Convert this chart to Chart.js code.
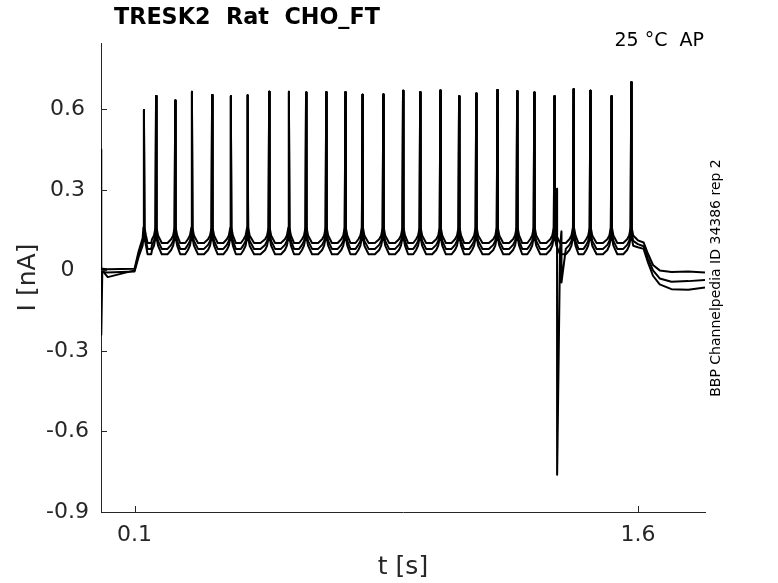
<!DOCTYPE html>
<html>
<head>
<meta charset="utf-8">
<script src="https://cdn.jsdelivr.net/npm/chart.js@4.4.1/dist/chart.umd.min.js"></script>
<style>
  html, body { margin: 0; padding: 0; background: #fff; }
  #wrap { width: 778px; height: 583px; }
</style>
</head>
<body>
<div id="wrap"><canvas id="trace" width="778" height="583"></canvas></div>
<script>
// Axis ticks
var xTicks = [0.1, 1.6];
var xTickLabels = ['0.1', '1.6'];
var yTicks = [-0.9, -0.6, -0.3, 0, 0.3, 0.6];
var yTickLabels = ['-0.9', '-0.6', '-0.3', '0', '0.3', '0.6'];

// Action potential times [s] and peak currents [nA]
var spikeTimes = [0.128, 0.164, 0.221, 0.271, 0.331, 0.387, 0.437, 0.501, 0.560, 0.611,
                  0.671, 0.728, 0.779, 0.841, 0.900, 0.951, 1.011, 1.067, 1.118, 1.181,
                  1.240, 1.291, 1.351, 1.408, 1.458, 1.521, 1.580];
var spikePeaks = [0.597, 0.650, 0.633, 0.665, 0.653, 0.650, 0.652, 0.665, 0.665, 0.663,
                  0.664, 0.664, 0.654, 0.655, 0.669, 0.664, 0.670, 0.649, 0.659, 0.672,
                  0.667, 0.663, 0.649, 0.675, 0.669, 0.649, 0.701];

// Three sweeps: level next to each spike and level in the dip between spikes
var sweepNames = ['sweep 1', 'sweep 2', 'sweep 3'];
var shoulderLevel = [0.130, 0.110, 0.092];
var troughLevel = [0.102, 0.080, 0.060];

// Before the stimulus
var headT = [0.0, 0.0008, 0.004, 0.020, 0.100, 0.112, 0.124];
var head1 = [0.45, -0.24, 0.006, 0.004, 0.006, 0.070, 0.120];
var head2 = [0.0, 0.0, 0.0, -0.025, 0.0, 0.060, 0.106];
var head3 = [-0.006, -0.006, -0.006, -0.008, -0.004, 0.050, 0.092];

// After the stimulus
var tailT = [1.600, 1.617, 1.630, 1.645, 1.665, 1.700, 1.750, 1.800];
var tail1 = [0.112, 0.104, 0.062, 0.020, 0.000, -0.006, -0.004, -0.008];
var tail2 = [0.098, 0.090, 0.045, 0.000, -0.030, -0.042, -0.040, -0.036];
var tail3 = [0.086, 0.080, 0.030, -0.020, -0.052, -0.070, -0.072, -0.064];

// Recording artefact seen in one sweep
var artefactT = [1.3590, 1.3593, 1.3720, 1.3723];
var artefactI = [0.304, -0.761, 0.145, -0.045];

var heads = [head1, head2, head3];
var tails = [tail1, tail2, tail3];

// Build one sweep as a list of {x, y}
function buildSweep(k) {
    var pts = [];
    headT.forEach(function (t, i) { pts.push({ x: t, y: heads[k][i] }); });
    var sh = shoulderLevel[k];
    var tr = troughLevel[k];
    spikeTimes.forEach(function (t, i) {
        var last = i === spikeTimes.length - 1;
        var next = last ? tailT[0] : spikeTimes[i + 1];
        var gap = next - t;
        if (i > 0) pts.push({ x: t - 0.006, y: sh });
        pts.push({ x: t - 0.0015, y: sh + 0.03 });
        pts.push({ x: t, y: spikePeaks[i] });
        pts.push({ x: t + 0.0015, y: sh + 0.03 });
        pts.push({ x: t + 0.006, y: sh });
        if (!last) {
            pts.push({ x: t + gap * 0.3, y: tr });
            pts.push({ x: t + gap * 0.6, y: tr });
            pts.push({ x: next - 0.012, y: (sh + tr) / 2 });
        }
    });
    tailT.forEach(function (t, i) { pts.push({ x: t, y: tails[k][i] }); });
    if (k === 1) {
        artefactT.forEach(function (t, i) { pts.push({ x: t, y: artefactI[i] }); });
        pts.sort(function (a, b) { return a.x - b.x; });
    }
    return pts;
}

var axisColor = '#262626';
var fontFam = '"DejaVu Sans", sans-serif';

// Extra texts and inward tick marks
var extrasPlugin = {
    id: 'extras',
    afterDraw: function (chart) {
        var c = chart.ctx;
        var xs = chart.scales.x;
        var ys = chart.scales.y;
        c.save();
        c.strokeStyle = axisColor;
        c.lineWidth = 1;
        c.beginPath();
        xTicks.forEach(function (v) {
            var px = Math.round(xs.getPixelForValue(v)) + 0.5;
            c.moveTo(px, ys.bottom);
            c.lineTo(px, ys.bottom - 6);
        });
        yTicks.forEach(function (v) {
            var py = Math.round(ys.getPixelForValue(v)) + 0.5;
            c.moveTo(xs.left, py);
            c.lineTo(xs.left + 6, py);
        });
        c.stroke();

        c.fillStyle = '#000';
        c.textBaseline = 'middle';
        c.textAlign = 'left';
        c.font = 'bold 22.3px ' + fontFam;
        c.fillText('TRESK2  Rat  CHO_FT', 114, 18);

        c.font = '19px ' + fontFam;
        c.textAlign = 'right';
        c.fillText('25 \u00B0C  AP', 704, 41);

        c.font = '14px ' + fontFam;
        c.translate(716, 278);
        c.rotate(-Math.PI / 2);
        c.textAlign = 'center';
        c.fillText('BBP Channelpedia ID 34386 rep 2', 0, 0);
        c.restore();
    }
};

const traceChart = new Chart(document.getElementById('trace'), {
    type: 'line',
    data: {
        datasets: sweepNames.map(function (name, k) {
            return {
                label: name,
                data: buildSweep(k),
                borderColor: '#000',
                borderWidth: 2,
                borderJoinStyle: 'round',
                pointRadius: 0,
                tension: 0,
                fill: false
            };
        })
    },
    options: {
        responsive: false,
        animation: false,
        devicePixelRatio: 1,
        layout: { padding: { top: 43, right: 73, left: 0, bottom: 0 } },
        plugins: {
            legend: { display: false },
            tooltip: { enabled: false }
        },
        scales: {
            x: {
                type: 'linear',
                min: 0,
                max: 1.8,
                afterBuildTicks: function (s) { s.ticks = xTicks.map(function (v) { return { value: v }; }); },
                afterFit: function (s) { s.height = 71; },
                grid: { display: false, drawTicks: false },
                border: { display: true, color: axisColor, width: 1 },
                ticks: {
                    autoSkip: false,
                    maxRotation: 0,
                    padding: 10,
                    color: axisColor,
                    font: { family: fontFam, size: 22 },
                    callback: function (v) { return xTickLabels[xTicks.indexOf(v)]; }
                },
                title: {
                    display: true,
                    text: 't [s]',
                    color: axisColor,
                    font: { family: fontFam, size: 25 },
                    padding: { top: 0, bottom: 1 }
                }
            },
            y: {
                min: -0.9,
                max: 0.847,
                afterBuildTicks: function (s) { s.ticks = yTicks.map(function (v) { return { value: v }; }); },
                afterFit: function (s) { s.width = 101; },
                grid: { display: false, drawTicks: false },
                border: { display: true, color: axisColor, width: 1 },
                ticks: {
                    autoSkip: false,
                    crossAlign: 'center',
                    padding: 12,
                    color: axisColor,
                    font: { family: fontFam, size: 22 },
                    callback: function (v) { return yTickLabels[yTicks.indexOf(v)]; }
                },
                title: {
                    display: true,
                    text: 'I [nA]',
                    color: axisColor,
                    font: { family: fontFam, size: 25 },
                    padding: { top: 13, bottom: 0 }
                }
            }
        }
    },
    plugins: [extrasPlugin]
});
</script>
</body>
</html>
